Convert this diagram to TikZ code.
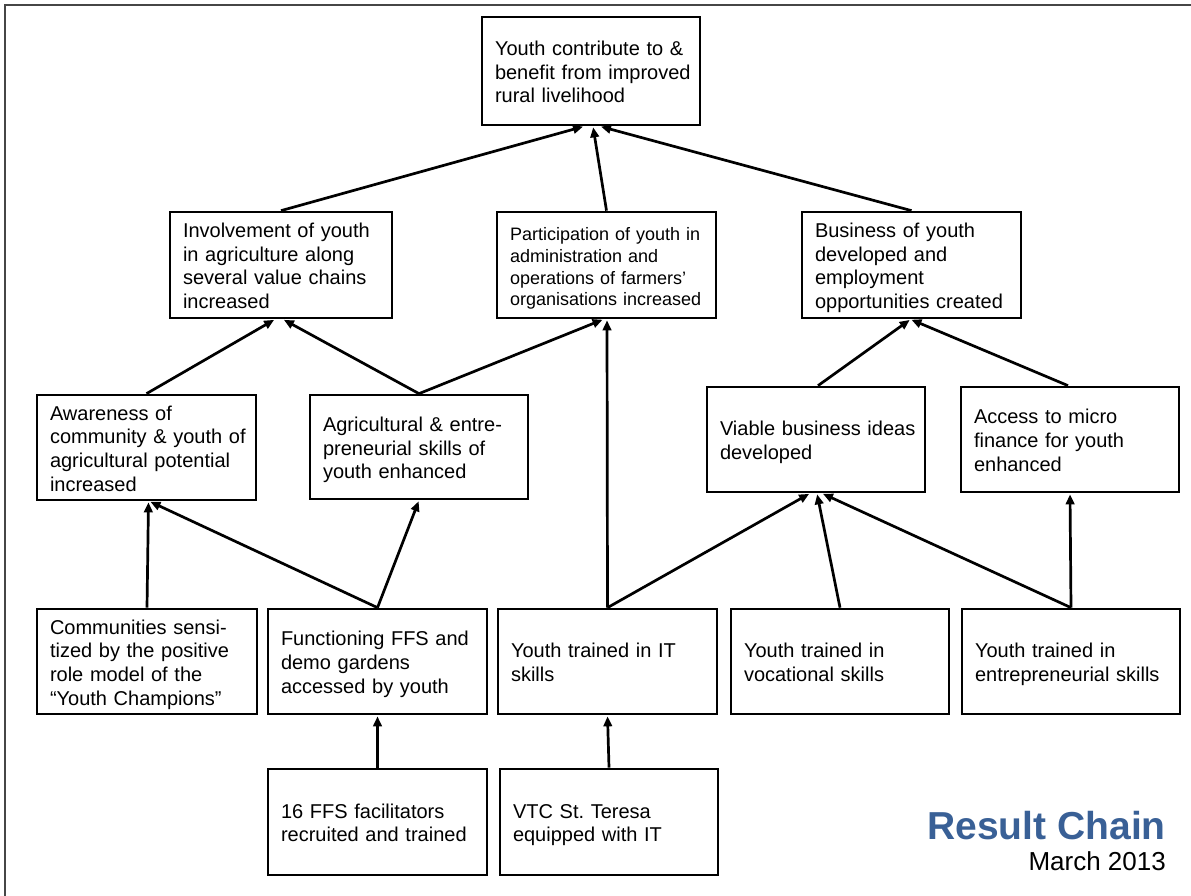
\documentclass[tikz,border=0pt]{standalone}
\usepackage{fontspec}
\setmainfont{Liberation Sans}
\usetikzlibrary{arrows.meta}
\definecolor{titleblue}{RGB}{57,96,150}
\definecolor{framegray}{RGB}{70,70,70}
\frenchspacing
% box text: lines are set exactly as given, never re-broken;
% the strut adds a little head room so the block sits slightly low
\newcommand{\boxlines}[1]{\begin{tabular}{@{}l@{}}\rule{0pt}{23.3pt}#1\end{tabular}}
\tikzset{
  resbox/.style={draw=black, line width=2.7pt, rectangle,
    inner xsep=13pt, inner ysep=0pt, text width=#1-26pt,
    minimum height=106pt, font=\fontsize{20}{23.7}\selectfont,
    execute at begin node={\raggedright}},
  resbox/.default=219pt,
  link/.style={line width=2.7pt, -{Triangle[length=10pt,width=8.5pt]}, shorten >=1pt}
}
\begin{document}
\begin{tikzpicture}[x=1pt,y=-1pt]
\useasboundingbox (0,0) rectangle (1191,896);
\clip (0,0) rectangle (1191,896);
% outer frame (top and left edges)
\draw[framegray, line width=2.4pt] (5,1000) -- (5,5) -- (1300,5);

% goal
\node[resbox=218pt, minimum height=108pt] (top) at (591,71)
  {\boxlines{Youth contribute to \&\\benefit from improved\\rural livelihood}};

% outcomes
\node[resbox=222pt] (inv) at (281,265)
  {\boxlines{Involvement of youth\\in agriculture along\\several value chains\\increased}};
\node[resbox, font=\fontsize{18}{21.7}\selectfont] (par) at (606.5,265)
  {\boxlines{Participation of youth in\\administration and\\operations of farmers’\\organisations increased}};
\node[resbox] (bus) at (911.5,265)
  {\boxlines{Business of youth\\developed and\\employment\\opportunities created}};

% intermediate results
\node[resbox, minimum height=105pt] (awa) at (146.5,447.5)
  {\boxlines{Awareness of\\community \& youth of\\agricultural potential\\increased}};
\node[resbox=218pt, minimum height=104pt] (agr) at (419,447)
  {\boxlines{Agricultural \& entre-\\preneurial skills of\\youth enhanced}};
\node[resbox=218pt, minimum height=105pt] (via) at (816,439.5)
  {\boxlines{Viable business ideas\\developed}};
\node[resbox=218pt, minimum height=105pt] (acc) at (1070,439.5)
  {\boxlines{Access to micro\\finance for youth\\enhanced}};

% outputs
\node[resbox=220pt, minimum height=105pt] (com) at (147,661.5)
  {\boxlines{Communities sensi-\\tized by the positive\\role model of the\\“Youth Champions”}};
\node[resbox, minimum height=105pt] (fun) at (377.5,661.5)
  {\boxlines{Functioning FFS and\\demo gardens\\accessed by youth}};
\node[resbox, minimum height=105pt] (yit) at (607.5,661.5)
  {\boxlines{Youth trained in IT\\skills}};
\node[resbox=218pt, minimum height=105pt] (voc) at (840,661.5)
  {\boxlines{Youth trained in\\vocational skills}};
\node[resbox=218pt, minimum height=105pt] (ent) at (1071,661.5)
  {\boxlines{Youth trained in\\entrepreneurial skills}};

% activities
\node[resbox] (ffs) at (377.5,822)
  {\boxlines{16 FFS facilitators\\recruited and trained}};
\node[resbox=218pt] (vtc) at (609,822)
  {\boxlines{VTC St. Teresa\\equipped with IT}};

% title
\node[anchor=base east, inner sep=0pt, text=titleblue,
  font=\fontsize{39}{44}\selectfont\bfseries] (title) at (1166,839) {Result Chain};
\node[anchor=base east, inner sep=0pt,
  font=\fontsize{26}{30}\selectfont] (date) at (1166,870) {March 2013};

% links
\draw[link] (inv.north) -- ([xshift=-7pt]top.south);
\draw[link] (par.north) -- ([xshift=2pt]top.south);
\draw[link] (bus.north) -- ([xshift=9pt]top.south);

\draw[link] (awa.north) -- ([xshift=-6pt]inv.south);
\draw[link] (agr.north) -- ([xshift=2pt]inv.south);
\draw[link] (agr.north) -- ([xshift=-3pt]par.south);
\draw[link] (yit.north) -- ([xshift=0.5pt]par.south);

\draw[link] ([xshift=2pt]via.north) -- ([xshift=-1pt]bus.south);
\draw[link] ([xshift=-2pt]acc.north) -- ([xshift=-1pt]bus.south);

\draw[link] (com.north) -- ([xshift=2pt]awa.south);
\draw[link] (fun.north) -- ([xshift=3pt]awa.south);
\draw[link] (fun.north) -- (agr.south);

\draw[link] (yit.north) -- ([xshift=-6pt]via.south);
\draw[link] (voc.north) -- ([xshift=1pt]via.south);
\draw[link] (ent.north) -- ([xshift=6pt]via.south);
\draw[link] (ent.north) -- (acc.south);

\draw[link] (ffs.north) -- (fun.south);
\draw[link] (vtc.north) -- (yit.south);
\end{tikzpicture}
\end{document}
